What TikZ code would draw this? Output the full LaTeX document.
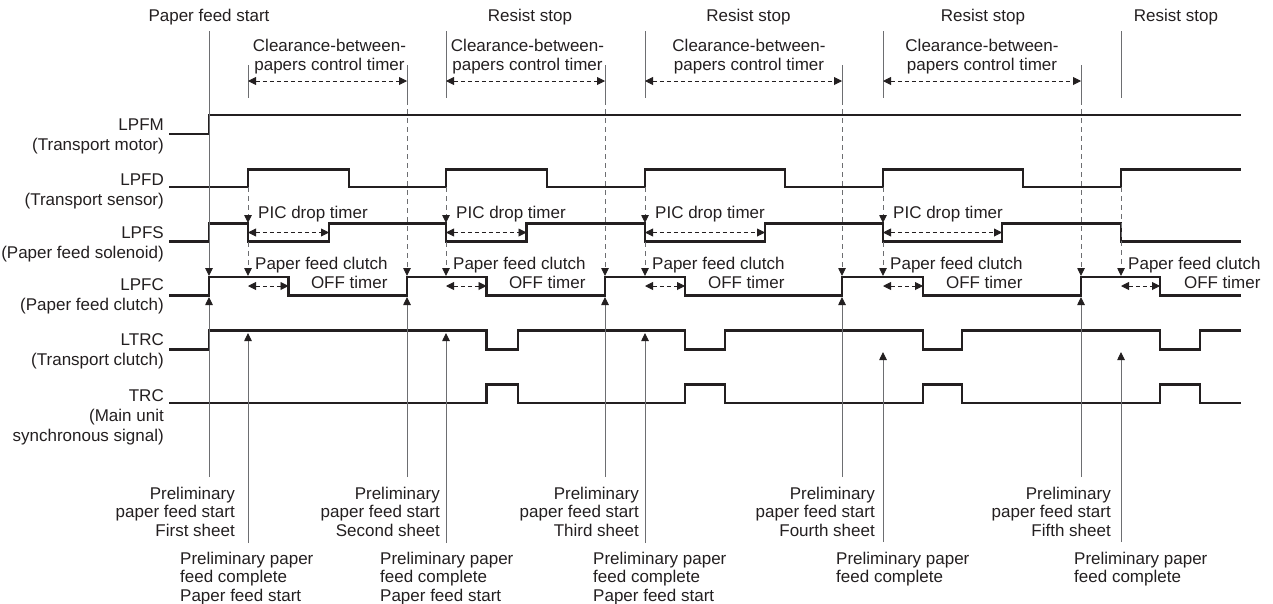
\documentclass[tikz,border=0pt]{standalone}
\usepackage{fontspec}
\setmainfont{Liberation Sans}
\usetikzlibrary{arrows.meta,positioning}
\definecolor{ink}{HTML}{231F20}
\definecolor{rule}{HTML}{6D6E71}

\begin{document}
\begin{tikzpicture}[x=1pt,y=-1pt,font=\fontsize{17}{19.5}\selectfont,text=ink,
  wave/.style={ink,line width=2.9pt},
  guide/.style={rule,line width=0.9pt},
  cue/.style={guide,-{Triangle[length=8pt,width=7.5pt,color=ink]}},
  dcue/.style={cue,dash pattern=on 5pt off 4pt},
  span/.style={ink,line width=0.9pt,dash pattern=on 4pt off 3pt,{Triangle[length=8pt,width=8pt]}-{Triangle[length=8pt,width=8pt]}},
  lbl/.style={inner sep=0pt,align=right,anchor=north east,font=\fontsize{17}{20}\selectfont},
  foot/.style={inner sep=0pt,font=\fontsize{17}{18.5}\selectfont},
  note/.style={inner sep=0pt,anchor=north west}]
\useasboundingbox (0,0) rectangle (1273,603);

% signal names
\node[lbl] (lpfm) at (164,119) {LPFM\\(Transport motor)};
\node[lbl] (lpfd) at (164,174) {LPFD\\(Transport sensor)};
\node[lbl] (lpfs) at (164,226.5) {LPFS\\(Paper feed solenoid)};
\node[lbl] (lpfc) at (164,278.5) {LPFC\\(Paper feed clutch)};
\node[lbl] (ltrc) at (164,333.5) {LTRC\\(Transport clutch)};
\node[lbl] (trc) at (164,389.5) {TRC\\(Main unit\\synchronous signal)};

% waveforms
\draw[wave] (169,134) -| (209,115) -- (1241,115);
\draw[wave] (169,187) -| (248,169.5) -| (349,187) -| (446,169.5) -| (547,187) -| (645,169.5) -| (785,187) -| (883,169.5) -| (1023,187) -| (1121,169.5) -- (1241,169.5);
\draw[wave] (169,241.5) -| (209,223.5) -| (248,241.5) -| (329,223.5) -| (446,241.5) -| (526.5,223.5) -| (645,241.5) -| (765,223.5) -| (883,241.5) -| (1002,223.5) -| (1121,241.5) -- (1241,241.5);
\draw[wave] (169,295.5) -| (209,277) -| (288.5,295.5) -| (407,277) -| (486.5,295.5) -| (605,277) -| (685,295.5) -| (842,277) -| (923,295.5) -| (1081,277) -| (1160,295.5) -- (1241,295.5);
\draw[wave] (169,349.5) -| (209,330.5) -| (486.5,349.5) -| (518,330.5) -| (685,349.5) -| (725,330.5) -| (923,349.5) -| (962,330.5) -| (1160,349.5) -| (1200,330.5) -- (1241,330.5);
\draw[wave] (169,403) -| (486.5,384.5) -| (518,403) -| (685,384.5) -| (725,403) -| (923,384.5) -| (962,403) -| (1160,384.5) -| (1200,403) -- (1241,403);

% event lines
\draw[cue] (209,31) -- (209,276); \draw[cue] (209,477) -- (209,297);
\draw[guide] (407,65) -- (407,100); \draw[dcue] (407,100) -- (407,276); \draw[cue] (407,477) -- (407,297);
\draw[guide] (605,65) -- (605,100); \draw[dcue] (605,100) -- (605,276); \draw[cue] (605,477) -- (605,297);
\draw[guide] (842,65) -- (842,100); \draw[dcue] (842,100) -- (842,276); \draw[cue] (842,477) -- (842,297);
\draw[guide] (1081,65) -- (1081,100); \draw[dcue] (1081,100) -- (1081,276); \draw[cue] (1081,477) -- (1081,297);
\draw[guide] (248,65) -- (248,98); \draw[dcue] (248,187) -- (248,223); \draw[dcue] (248,242) -- (248,276); \draw[cue] (248,543) -- (248,333);
\draw[guide] (446,31) -- (446,98); \draw[dcue] (446,187) -- (446,223); \draw[dcue] (446,242) -- (446,276); \draw[cue] (446,543) -- (446,333);
\draw[guide] (645,31) -- (645,98); \draw[dcue] (645,187) -- (645,223); \draw[dcue] (645,242) -- (645,276); \draw[cue] (645,543) -- (645,333);
\draw[guide] (883,31) -- (883,98); \draw[dcue] (883,187) -- (883,223); \draw[dcue] (883,242) -- (883,276); \draw[cue] (883,542) -- (883,352);
\draw[guide] (1121,31) -- (1121,98); \draw[dcue] (1121,187) -- (1121,276); \draw[cue] (1121,542) -- (1121,352);

% timers
\draw[span] (248,81) -- (407,81); \draw[span] (446,81) -- (605,81); \draw[span] (645,81) -- (842,81); \draw[span] (883,81) -- (1081,81);
\draw[span] (248,232.5) -- (329,232.5); \draw[span] (446,232.5) -- (526.5,232.5); \draw[span] (645,232.5) -- (765,232.5); \draw[span] (883,232.5) -- (1002,232.5);
\draw[span] (248,286) -- (288.5,286); \draw[span] (446,286) -- (486.5,286); \draw[span] (645,286) -- (685,286); \draw[span] (883,286) -- (923,286); \draw[span] (1121,286) -- (1160,286);

% top texts
\node[anchor=base] (pfs) at (209,21) {Paper feed start};
\node[anchor=base] (rs1) at (530,21) {Resist stop};
\node[anchor=base] (rs2) at (748.5,21) {Resist stop};
\node[anchor=base] (rs3) at (983,21) {Resist stop};
\node[anchor=base] (rs4) at (1176,21) {Resist stop};
\node[note,anchor=north,align=center] (clr1) at (329.5,38.5) {Clearance-between-\\papers control timer};
\node[note,anchor=north,align=center] (clr2) at (527.5,38.5) {Clearance-between-\\papers control timer};
\node[note,anchor=north,align=center] (clr3) at (749,38.5) {Clearance-between-\\papers control timer};
\node[note,anchor=north,align=center] (clr4) at (982,38.5) {Clearance-between-\\papers control timer};
\node[note] (pic1) at (258,206) {PIC drop timer};
\node[note] (pic2) at (456,206) {PIC drop timer};
\node[note] (pic3) at (655,206) {PIC drop timer};
\node[note] (pic4) at (893,206) {PIC drop timer};
\node[note,align=right] (off1) at (255,256.5) {Paper feed clutch\\OFF timer};
\node[note,align=right] (off2) at (453,256.5) {Paper feed clutch\\OFF timer};
\node[note,align=right] (off3) at (652,256.5) {Paper feed clutch\\OFF timer};
\node[note,align=right] (off4) at (890,256.5) {Paper feed clutch\\OFF timer};
\node[note,align=right] (off5) at (1128,256.5) {Paper feed clutch\\OFF timer};

% bottom texts
\node[foot,anchor=north east,align=right] (pre1) at (235,486.5) {Preliminary\\paper feed start\\First sheet};
\node[foot,anchor=north east,align=right] (pre2) at (440,486.5) {Preliminary\\paper feed start\\Second sheet};
\node[foot,anchor=north east,align=right] (pre3) at (639,486.5) {Preliminary\\paper feed start\\Third sheet};
\node[foot,anchor=north east,align=right] (pre4) at (875,486.5) {Preliminary\\paper feed start\\Fourth sheet};
\node[foot,anchor=north east,align=right] (pre5) at (1111,486.5) {Preliminary\\paper feed start\\Fifth sheet};
\node[foot,anchor=north west,align=left] (done1) at (180,551.5) {Preliminary paper\\feed complete\\Paper feed start};
\node[foot,anchor=north west,align=left] (done2) at (380,551.5) {Preliminary paper\\feed complete\\Paper feed start};
\node[foot,anchor=north west,align=left] (done3) at (593,551.5) {Preliminary paper\\feed complete\\Paper feed start};
\node[foot,anchor=north west,align=left] (done4) at (836,551.5) {Preliminary paper\\feed complete};
\node[foot,anchor=north west,align=left] (done5) at (1074,551.5) {Preliminary paper\\feed complete};
\end{tikzpicture}
\end{document}
